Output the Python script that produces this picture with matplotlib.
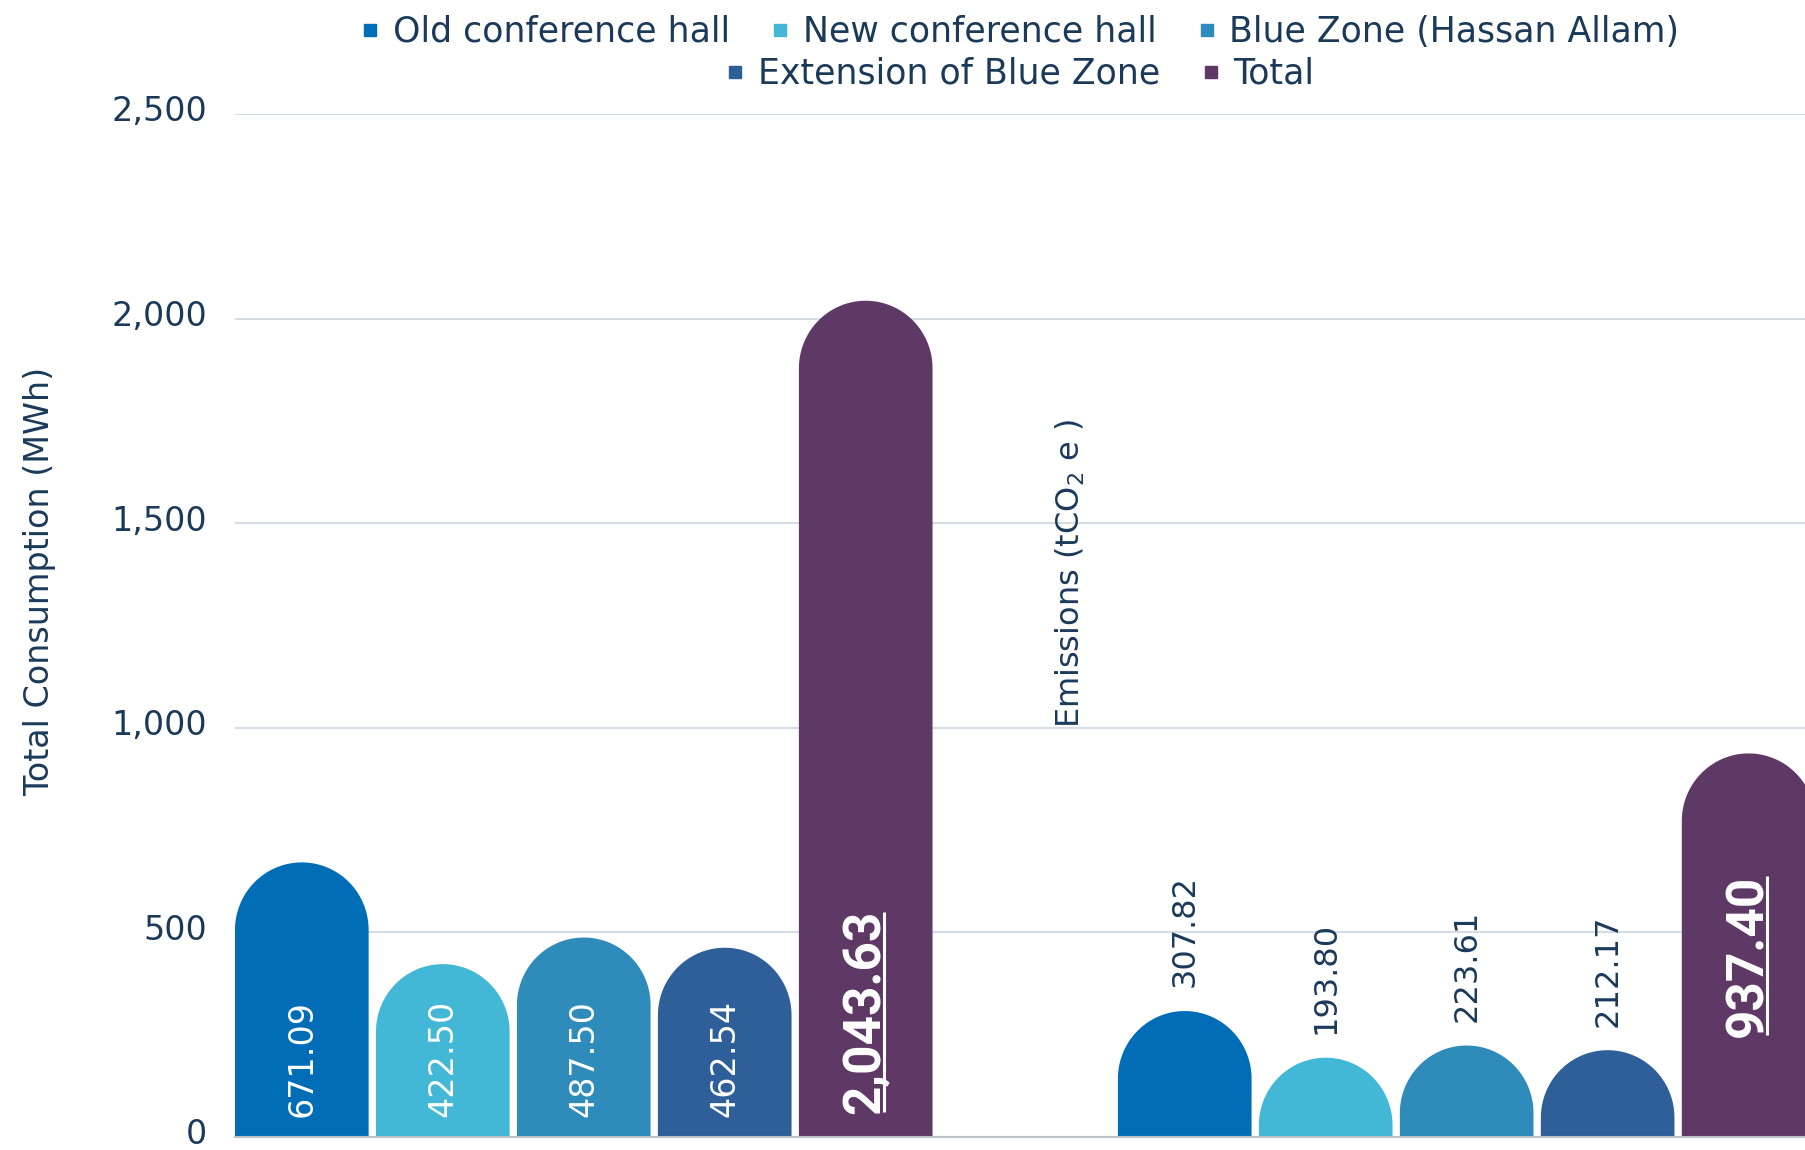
import numpy as np
import matplotlib
matplotlib.use("Agg")
import matplotlib.pyplot as plt
import matplotlib.transforms as mtransforms
from matplotlib.lines import Line2D

series = ["Old conference hall", "New conference hall", "Blue Zone (Hassan Allam)",
          "Extension of Blue Zone", "Total"]
colors = ["#006db6", "#42b7d6", "#2e8bba", "#2e5f99", "#5e3966"]
consumption = [671.09, 422.50, 487.50, 462.54, 2043.63]
emissions = [307.82, 193.80, 223.61, 212.17, 937.40]
yticks = [0, 500, 1000, 1500, 2000, 2500]

navy = "#1b3a5a"
bar_w = 0.948
group_step = 6.263
cap = 165  # height of the rounded top, data units

fig = plt.figure(figsize=(18.06, 11.5), dpi=100)
ax = fig.add_axes([235 / 1806, 13 / 1150, 1 - 235 / 1806, (1137 - 114) / 1150])


def round_bar(x, h, color):
    r = min(cap, h)
    t = np.linspace(0, np.pi, 80)
    xs = np.concatenate([[x + bar_w / 2], x + bar_w / 2 * np.cos(t), [x - bar_w / 2]])
    ys = np.concatenate([[0], h - r + r * np.sin(t), [0]])
    ax.fill(xs, ys, color=color, lw=0, zorder=3)


underlined = []
for i, v in enumerate(consumption):
    round_bar(i, v, colors[i])
    if i < 4:
        ax.text(i, 50, f"{v:,.2f}", rotation=90, ha="center", va="bottom",
                fontsize=24, color="white", zorder=4)
    else:
        t = ax.text(i, 55, f"{v:,.2f}", rotation=90, ha="center", va="bottom",
                    fontsize=37, color="white", family="Roboto", weight="bold", zorder=4)
        underlined.append(t)

for i, v in enumerate(emissions):
    x = group_step + i
    round_bar(x, v, colors[i])
    if i < 4:
        ax.annotate(f"{v:,.2f}", (x, v), xytext=(0, 17), textcoords="offset points",
                    rotation=90, ha="center", va="bottom", fontsize=23, color=navy, zorder=4)
    else:
        t = ax.text(x, 245, f"{v:,.2f}", rotation=90, ha="center", va="bottom",
                    fontsize=37, color="white", family="Roboto", weight="bold", zorder=4)
        underlined.append(t)

ax.text(5.45, 1000, "Emissions (tCO$_2$ e )", rotation=90, ha="center", va="bottom",
        fontsize=23, color=navy)

ax.set_xlim(-0.474, 10.67)
ax.set_ylim(0, 2500)
ax.set_xticks([])
ax.set_yticks(yticks)
ax.set_yticklabels([f"{v:,}" for v in yticks])
ax.tick_params(axis="y", length=0, pad=20, labelsize=24, labelcolor=navy)
lift = mtransforms.ScaledTranslation(0, 4 / 72, fig.dpi_scale_trans)
for lab in ax.get_yticklabels():
    lab.set_verticalalignment("center_baseline")
    lab.set_transform(lab.get_transform() + lift)
ax.yaxis.grid(True, color="#d5dde4", lw=1.5)
ax.set_axisbelow(True)
for s in ["top", "right", "left"]:
    ax.spines[s].set_visible(False)
ax.spines["bottom"].set_color("#b9c3cc")
ax.spines["bottom"].set_linewidth(1.5)
ax.spines["bottom"].set_zorder(5)

fig.text(0.022, 0.494, "Total Consumption (MWh)", rotation=90, ha="center", va="center",
         fontsize=24, color=navy)

handles = [Line2D([], [], ls="none", marker="s", ms=8, mfc=c, mec=c) for c in colors]
fig.legend(handles[:3], series[:3], loc="center", bbox_to_anchor=(0.565, 1 - 32 / 1150),
           ncol=3, frameon=False, fontsize=25, handlelength=0.5, handletextpad=0.4,
           columnspacing=1.2, labelcolor=navy, borderpad=0)
fig.legend(handles[3:], series[3:], loc="center", bbox_to_anchor=(0.565, 1 - 74 / 1150),
           ncol=2, frameon=False, fontsize=25, handlelength=0.5, handletextpad=0.4,
           columnspacing=1.2, labelcolor=navy, borderpad=0)

# underline the totals (drawn beside the rotated text)
fig.canvas.draw()
renderer = fig.canvas.get_renderer()
inv = ax.transData.inverted()
for t in underlined:
    bb = t.get_window_extent(renderer)
    (x0, y0), (x1, y1) = inv.transform([(bb.x1 - 7, bb.y0 + 2), (bb.x1 - 7, bb.y1 - 2)])
    ax.plot([x0, x1], [y0, y1], color="white", lw=2.2, zorder=4, solid_capstyle="butt")

fig.savefig("out.png", dpi=100)
